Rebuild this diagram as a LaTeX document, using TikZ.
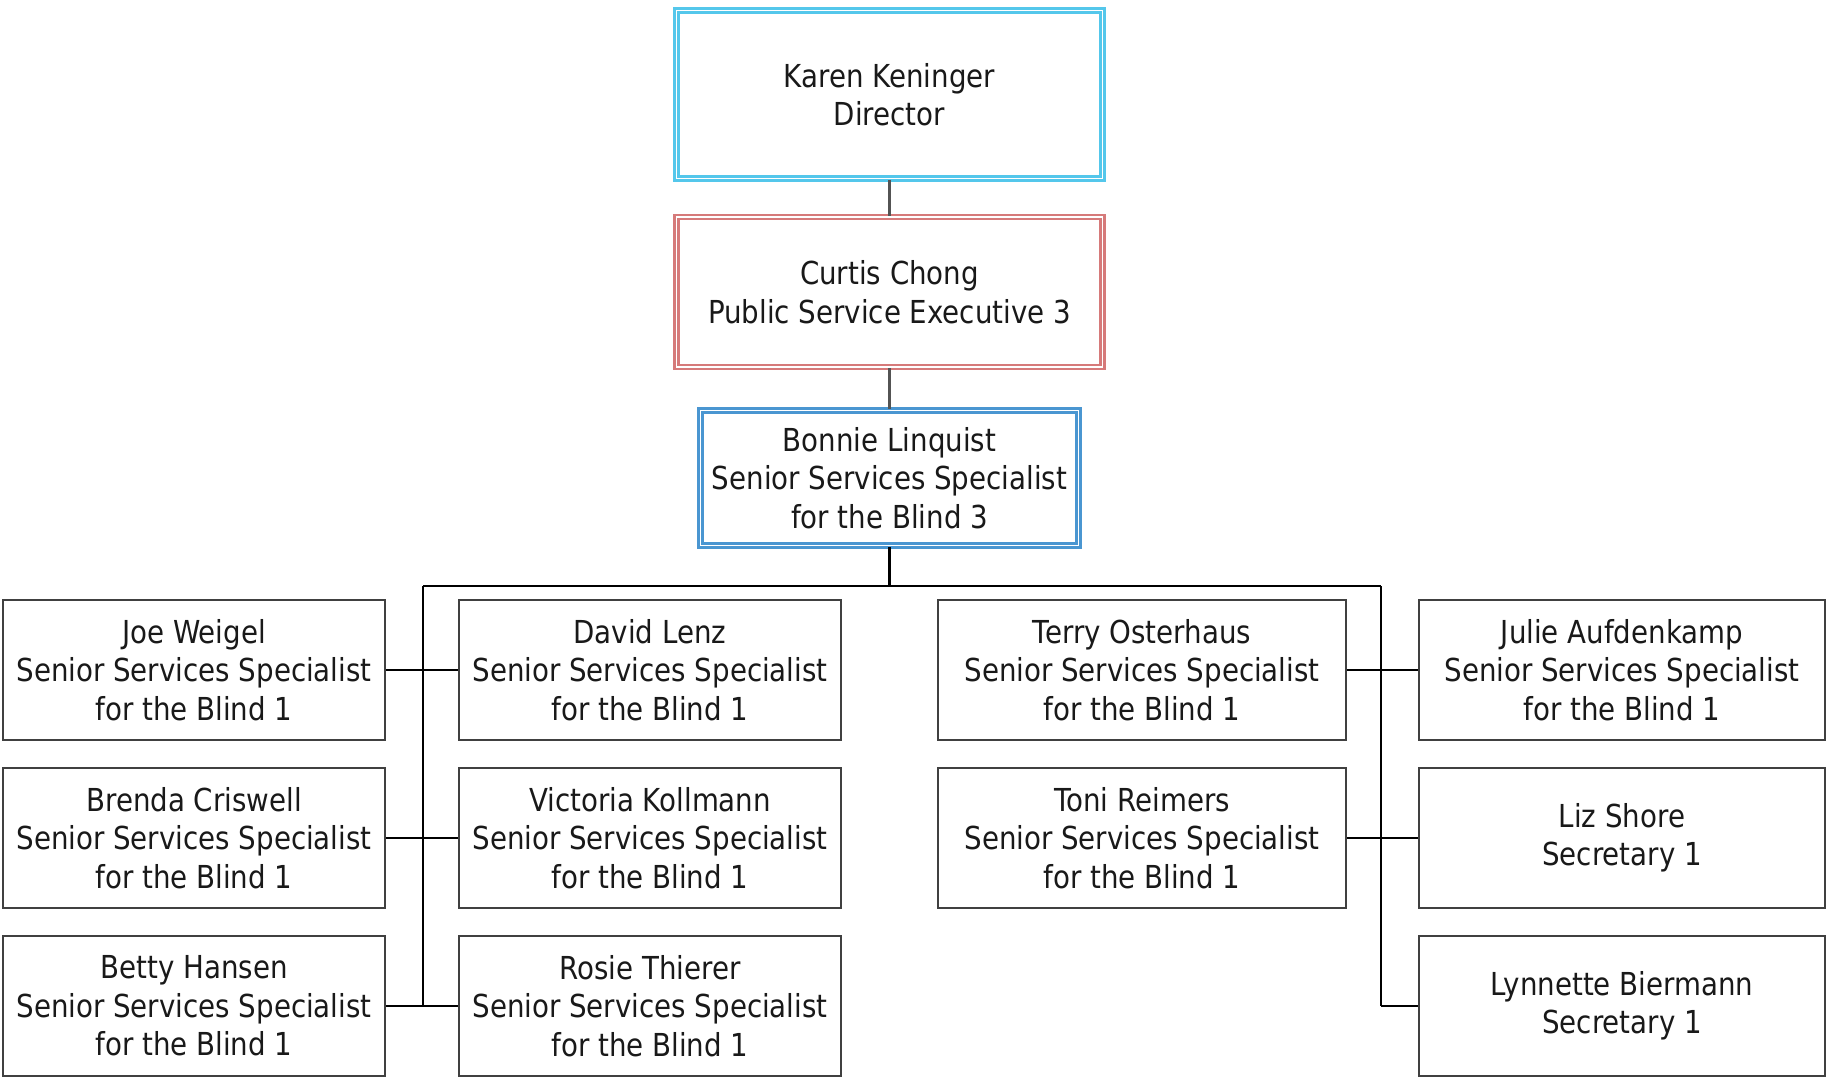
\documentclass[tikz,border=0pt]{standalone}
\usepackage{fontspec}
\setmainfont{DejaVu Sans}[FakeStretch=0.875]
\usetikzlibrary{calc}
\definecolor{DirClr}{rgb}{0.33,0.78,0.92}
\definecolor{ExecClr}{rgb}{0.84,0.48,0.48}
\definecolor{LeadClr}{rgb}{0.29,0.59,0.82}
\definecolor{BoxClr}{rgb}{0.25,0.25,0.25}
\definecolor{TxtClr}{rgb}{0.1,0.1,0.1}

\begin{document}
\begin{tikzpicture}[x=0.1mm,y=-0.1mm,
  person/.style={draw=BoxClr,line width=0.7pt,fill=white,align=center,
    text=TxtClr,font=\fontsize{9}{10.95}\selectfont,inner sep=0pt,
    minimum height=14mm},
  topbox/.style={person,line width=0.7pt,double=white,double distance=0.55pt},
  link/.style={line width=0.65pt,color=BoxClr!90},
  bus/.style={line width=0.6pt,color=black}]
\useasboundingbox (0,0) rectangle (1828,1080);

\node[topbox,draw=DirClr,minimum width=42.6mm,minimum height=16.8mm] (dir) at (889.5,94.5)
  {Karen Keninger\\Director};
\node[topbox,draw=ExecClr,minimum width=42.6mm,minimum height=15mm] (exec) at (889.5,292)
  {Curtis Chong\\Public Service Executive 3};
\node[topbox,draw=LeadClr,minimum width=37.8mm,minimum height=13.5mm] (lead) at (889.5,478)
  {Bonnie Linquist\\Senior Services Specialist\\for the Blind 3};

\node[person,minimum width=38.2mm] (joe) at (194,670)
  {Joe Weigel\\Senior Services Specialist\\for the Blind 1};
\node[person,minimum width=38.2mm] (brenda) at (194,838)
  {Brenda Criswell\\Senior Services Specialist\\for the Blind 1};
\node[person,minimum width=38.2mm] (betty) at (194,1006)
  {Betty Hansen\\Senior Services Specialist\\for the Blind 1};

\node[person,minimum width=38.2mm] (david) at (650,670)
  {David Lenz\\Senior Services Specialist\\for the Blind 1};
\node[person,minimum width=38.2mm] (victoria) at (650,838)
  {Victoria Kollmann\\Senior Services Specialist\\for the Blind 1};
\node[person,minimum width=38.2mm] (rosie) at (650,1006)
  {Rosie Thierer\\Senior Services Specialist\\for the Blind 1};

\node[person,minimum width=40.8mm] (terry) at (1142,670)
  {Terry Osterhaus\\Senior Services Specialist\\for the Blind 1};
\node[person,minimum width=40.8mm] (toni) at (1142,838)
  {Toni Reimers\\Senior Services Specialist\\for the Blind 1};

\node[person,minimum width=40.6mm] (julie) at (1622,670)
  {Julie Aufdenkamp\\Senior Services Specialist\\for the Blind 1};
\node[person,minimum width=40.6mm] (liz) at (1622,838)
  {Liz Shore\\Secretary 1};
\node[person,minimum width=40.6mm] (lynn) at (1622,1006)
  {Lynnette Biermann\\Secretary 1};

\coordinate (busL) at (423,586);
\coordinate (busR) at (1381,586);

\draw[link] (dir) -- (exec);
\draw[link] (exec) -- (lead);
\draw[bus,line width=0.9pt] (lead.south) -- (lead.south |- busL);
\draw[bus] (busL) -- (busR);
\draw[bus] (busL) -- (busL |- betty.east);
\draw[bus] (busR) -- (busR |- lynn.west);

\draw[bus] (joe) -- (david);
\draw[bus] (brenda) -- (victoria);
\draw[bus] (betty) -- (rosie);
\draw[bus] (terry) -- (julie);
\draw[bus] (toni) -- (liz);
\draw[bus] (busR |- lynn.west) -- (lynn);

\end{tikzpicture}
\end{document}
